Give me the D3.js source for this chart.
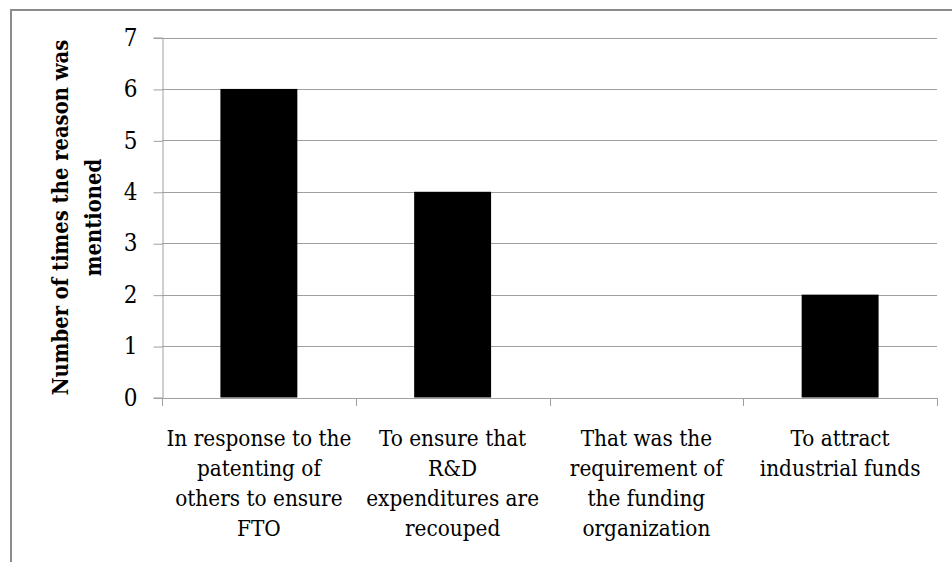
<!DOCTYPE html>
<html>
<head>
<meta charset="utf-8">
<script src="https://cdn.jsdelivr.net/npm/d3@7/dist/d3.min.js"></script>
<style>
  html, body { margin: 0; padding: 0; background: #fff; }
  svg { display: block; }
</style>
</head>
<body>
<svg id="chart" width="952" height="562"></svg>
<script>
// Reasons for patenting and how often each was mentioned
const categories = [
  ["In response to the", "patenting of", "others to ensure", "FTO"],
  ["To ensure that", "R&D", "expenditures are", "recouped"],
  ["That was the", "requirement of", "the funding", "organization"],
  ["To attract", "industrial funds"]
];
const values = [6, 4, 0, 2];
const yTicks = [0, 1, 2, 3, 4, 5, 6, 7];
const yTitle = ["Number of times the reason was", "mentioned"];

const FONT = "'DejaVu Serif Condensed', 'DejaVu Serif', serif";

const svg = d3.select("#chart").attr("font-family", FONT);
const W = 952, H = 562;
const plot = { left: 162, right: 937, top: 37.5, bottom: 397.5 };

// Scale a text element's font so its first line spans the wanted width
function fitFont(textSel, sample, width, base) {
  const probe = svg.append("text").attr("font-size", base)
    .attr("font-weight", textSel.attr("font-weight")).text(sample);
  const w = probe.node().getComputedTextLength();
  probe.remove();
  return base * width / w;
}

// Outer frame (only top and left edges fall inside the canvas)
svg.append("path")
  .attr("d", `M11,${H + 5}V10H${W + 5}`)
  .attr("fill", "none")
  .attr("stroke", "#8c8c8c")
  .attr("stroke-width", 2);

const x = d3.scaleBand()
  .domain(d3.range(categories.length))
  .range([plot.left, plot.right])
  .paddingInner(0.603)
  .paddingOuter(0.3015);

const y = d3.scaleLinear()
  .domain([0, 7])
  .range([plot.bottom, plot.top]);

const gridColor = "#a0a0a0";

// Horizontal gridlines
svg.append("g")
  .selectAll("line")
  .data(yTicks.filter(d => d > 0))
  .join("line")
  .attr("x1", plot.left)
  .attr("x2", plot.right)
  .attr("y1", d => Math.round(y(d)) + 0.5)
  .attr("y2", d => Math.round(y(d)) + 0.5)
  .attr("stroke", gridColor)
  .attr("stroke-width", 1);

// Y axis
const yAxis = svg.append("g")
  .attr("transform", `translate(${plot.left + 0.5},0)`)
  .call(d3.axisLeft(y).tickValues(yTicks).tickSize(9).tickPadding(16)
    .tickFormat(d3.format("d")));
yAxis.attr("font-family", FONT).attr("font-size", 24);
yAxis.select(".domain").attr("stroke", gridColor);
yAxis.selectAll(".tick line").attr("stroke", gridColor)
  .attr("transform", "translate(0,0.5)");
yAxis.selectAll(".tick text").attr("fill", "#000");

// Bars
svg.append("g")
  .selectAll("rect")
  .data(values)
  .join("rect")
  .attr("x", (d, i) => x(i))
  .attr("width", x.bandwidth())
  .attr("y", d => y(d))
  .attr("height", d => y(0) - y(d))
  .attr("fill", "#000");

// X axis with boundary ticks between categories
const step = x.step();
const bounds = d3.range(categories.length + 1).map(i => plot.left + i * step);
const xg = svg.append("g");
xg.append("line")
  .attr("x1", plot.left).attr("x2", plot.right)
  .attr("y1", Math.round(y(0)) + 0.5).attr("y2", Math.round(y(0)) + 0.5)
  .attr("stroke", gridColor);
xg.selectAll("line.b")
  .data(bounds)
  .join("line")
  .attr("class", "b")
  .attr("x1", d => Math.round(d) + 0.5).attr("x2", d => Math.round(d) + 0.5)
  .attr("y1", Math.round(y(0))).attr("y2", Math.round(y(0)) + 8)
  .attr("stroke", gridColor);

// Category labels, one line per tspan
const labelG = svg.append("g").attr("font-weight", "normal");
const labelSize = fitFont(labelG, categories[0][0], 185, 24);
const labels = labelG
  .selectAll("text")
  .data(categories)
  .join("text")
  .attr("text-anchor", "middle")
  .attr("font-size", labelSize)
  .attr("x", (d, i) => x(i) + x.bandwidth() / 2)
  .attr("y", 446);
labels.selectAll("tspan")
  .data(d => d)
  .join("tspan")
  .attr("x", function () { return d3.select(this.parentNode).attr("x"); })
  .attr("dy", (d, i) => i === 0 ? 0 : 30)
  .text(d => d);

// Y axis title
const cy = (plot.top + plot.bottom) / 2;
const titleG = svg.append("g").attr("font-weight", "bold");
const titleSize = fitFont(titleG, yTitle[0], 356, 22);
titleG.append("text")
  .attr("transform", `translate(68,${cy}) rotate(-90)`)
  .attr("text-anchor", "middle")
  .attr("font-size", titleSize)
  .selectAll("tspan")
  .data(yTitle)
  .join("tspan")
  .attr("x", 0)
  .attr("dy", (d, i) => i === 0 ? 0 : 33)
  .text(d => d);
</script>
</body>
</html>
